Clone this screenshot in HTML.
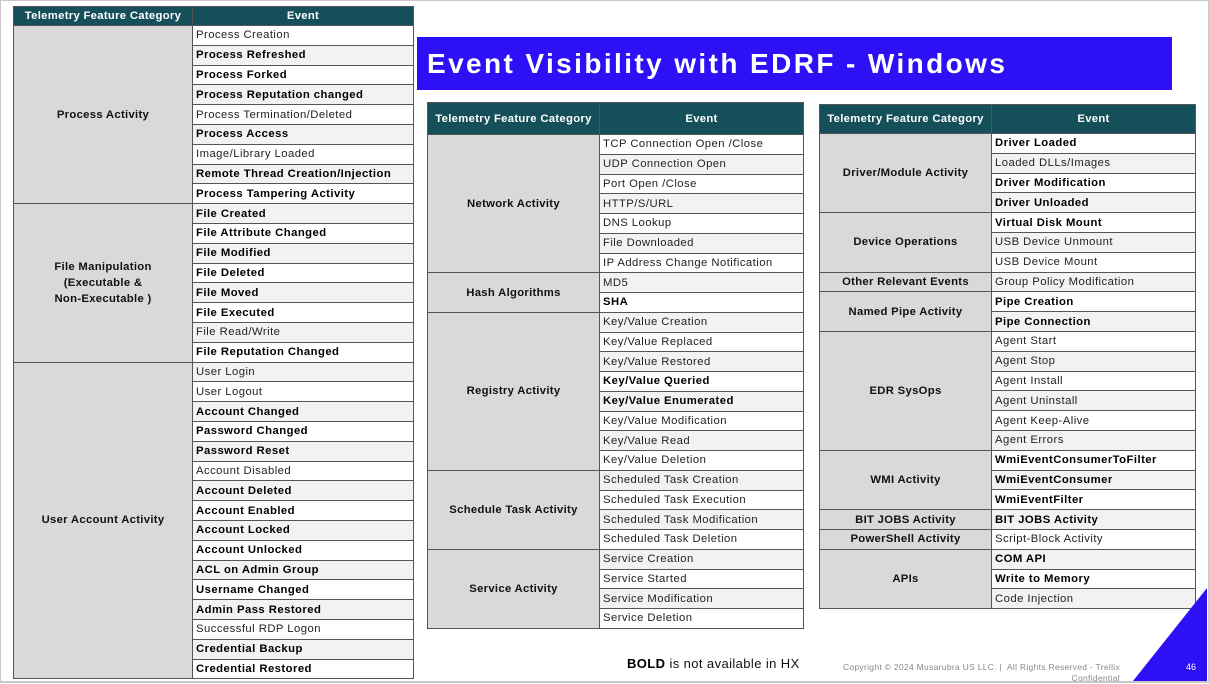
<!DOCTYPE html>
<html><head><meta charset="utf-8"><style>
body{margin:0;background:#fff;}
#pg{position:relative;width:1209px;height:684px;overflow:hidden;background:#fff;font-family:"Liberation Sans",sans-serif;}
#frame{position:absolute;left:0;top:0;width:1207px;height:680px;border:1px solid #c8c8c8;border-bottom:2px solid #c8c8c8;}
table{position:absolute;border-collapse:collapse;table-layout:fixed;font-size:11.3px;color:#222;border:1.5px solid #333;letter-spacing:0.45px;}
td,th{border:1px solid #555;padding:0 0 0 3px;white-space:nowrap;overflow:hidden;line-height:14px;vertical-align:middle;}
th{background:#144f5a;color:#fff;font-weight:bold;text-align:center;padding:0;font-size:11.3px;letter-spacing:0.3px;}
td.c{background:#d9d9d9;font-weight:bold;text-align:center;padding:0;color:#111;white-space:normal;line-height:16px;letter-spacing:0.3px;}
tr.g td{background:#f2f2f2;}
tr.g td.c{background:#d9d9d9;}
b{color:#000;}
#title{position:absolute;left:417px;top:37px;width:755px;height:53px;background:#2d10f5;color:#fff;font-weight:bold;font-size:28px;line-height:53px;padding-left:10px;box-sizing:border-box;letter-spacing:2.4px;}
</style></head><body><div id="pg"><div id="frame"></div>
<div id="title">Event Visibility with EDRF - Windows</div>

<table style="left:13px;top:6px;width:400px;">
<colgroup><col style="width:179px"><col style="width:221px"></colgroup>
<tr style="height:19px"><th>Telemetry Feature Category</th><th>Event</th></tr>
<tr style="height:19.8px"><td class="c" rowspan="9">Process Activity</td><td>Process Creation</td></tr>
<tr class="g" style="height:19.8px"><td><b>Process Refreshed</b></td></tr>
<tr style="height:19.8px"><td><b>Process Forked</b></td></tr>
<tr class="g" style="height:19.8px"><td><b>Process Reputation changed</b></td></tr>
<tr style="height:19.8px"><td>Process Termination/Deleted</td></tr>
<tr class="g" style="height:19.8px"><td><b>Process Access</b></td></tr>
<tr style="height:19.8px"><td>Image/Library Loaded</td></tr>
<tr class="g" style="height:19.8px"><td><b>Remote Thread Creation/Injection</b></td></tr>
<tr style="height:19.8px"><td><b>Process Tampering Activity</b></td></tr>
<tr class="g" style="height:19.8px"><td class="c" rowspan="8">File Manipulation<br>(Executable &amp;<br>Non-Executable )</td><td><b>File Created</b></td></tr>
<tr style="height:19.8px"><td><b>File Attribute Changed</b></td></tr>
<tr class="g" style="height:19.8px"><td><b>File Modified</b></td></tr>
<tr style="height:19.8px"><td><b>File Deleted</b></td></tr>
<tr class="g" style="height:19.8px"><td><b>File Moved</b></td></tr>
<tr style="height:19.8px"><td><b>File Executed</b></td></tr>
<tr class="g" style="height:19.8px"><td>File Read/Write</td></tr>
<tr style="height:19.8px"><td><b>File Reputation Changed</b></td></tr>
<tr class="g" style="height:19.8px"><td class="c" rowspan="16">User Account Activity</td><td>User Login</td></tr>
<tr style="height:19.8px"><td>User Logout</td></tr>
<tr class="g" style="height:19.8px"><td><b>Account Changed</b></td></tr>
<tr style="height:19.8px"><td><b>Password Changed</b></td></tr>
<tr class="g" style="height:19.8px"><td><b>Password Reset</b></td></tr>
<tr style="height:19.8px"><td>Account Disabled</td></tr>
<tr class="g" style="height:19.8px"><td><b>Account Deleted</b></td></tr>
<tr style="height:19.8px"><td><b>Account Enabled</b></td></tr>
<tr class="g" style="height:19.8px"><td><b>Account Locked</b></td></tr>
<tr style="height:19.8px"><td><b>Account Unlocked</b></td></tr>
<tr class="g" style="height:19.8px"><td><b>ACL on Admin Group</b></td></tr>
<tr style="height:19.8px"><td><b>Username Changed</b></td></tr>
<tr class="g" style="height:19.8px"><td><b>Admin Pass Restored</b></td></tr>
<tr style="height:19.8px"><td>Successful RDP Logon</td></tr>
<tr class="g" style="height:19.8px"><td><b>Credential Backup</b></td></tr>
<tr style="height:19.8px"><td><b>Credential Restored</b></td></tr>
</table>

<table style="left:427px;top:102px;width:376px;">
<colgroup><col style="width:172px"><col style="width:204px"></colgroup>
<tr style="height:32px"><th>Telemetry Feature Category</th><th>Event</th></tr>
<tr style="height:19.76px"><td class="c" rowspan="7">Network Activity</td><td>TCP Connection Open /Close</td></tr>
<tr class="g" style="height:19.76px"><td>UDP Connection Open</td></tr>
<tr style="height:19.76px"><td>Port Open /Close</td></tr>
<tr class="g" style="height:19.76px"><td>HTTP/S/URL</td></tr>
<tr style="height:19.76px"><td>DNS Lookup</td></tr>
<tr class="g" style="height:19.76px"><td>File Downloaded</td></tr>
<tr style="height:19.76px"><td>IP Address Change Notification</td></tr>
<tr class="g" style="height:19.76px"><td class="c" rowspan="2">Hash Algorithms</td><td>MD5</td></tr>
<tr style="height:19.76px"><td><b>SHA</b></td></tr>
<tr class="g" style="height:19.76px"><td class="c" rowspan="8">Registry Activity</td><td>Key/Value Creation</td></tr>
<tr style="height:19.76px"><td>Key/Value Replaced</td></tr>
<tr class="g" style="height:19.76px"><td>Key/Value Restored</td></tr>
<tr style="height:19.76px"><td><b>Key/Value Queried</b></td></tr>
<tr class="g" style="height:19.76px"><td><b>Key/Value Enumerated</b></td></tr>
<tr style="height:19.76px"><td>Key/Value Modification</td></tr>
<tr class="g" style="height:19.76px"><td>Key/Value Read</td></tr>
<tr style="height:19.76px"><td>Key/Value Deletion</td></tr>
<tr class="g" style="height:19.76px"><td class="c" rowspan="4">Schedule Task Activity</td><td>Scheduled Task Creation</td></tr>
<tr style="height:19.76px"><td>Scheduled Task Execution</td></tr>
<tr class="g" style="height:19.76px"><td>Scheduled Task Modification</td></tr>
<tr style="height:19.76px"><td>Scheduled Task Deletion</td></tr>
<tr class="g" style="height:19.76px"><td class="c" rowspan="4">Service Activity</td><td>Service Creation</td></tr>
<tr style="height:19.76px"><td>Service Started</td></tr>
<tr class="g" style="height:19.76px"><td>Service Modification</td></tr>
<tr style="height:19.76px"><td>Service Deletion</td></tr>
</table>

<table style="left:819px;top:104px;width:376px;">
<colgroup><col style="width:172px"><col style="width:204px"></colgroup>
<tr style="height:29px"><th>Telemetry Feature Category</th><th>Event</th></tr>
<tr style="height:19.8px"><td class="c" rowspan="4">Driver/Module Activity</td><td><b>Driver Loaded</b></td></tr>
<tr class="g" style="height:19.8px"><td>Loaded DLLs/Images</td></tr>
<tr style="height:19.8px"><td><b>Driver Modification</b></td></tr>
<tr class="g" style="height:19.8px"><td><b>Driver Unloaded</b></td></tr>
<tr style="height:19.8px"><td class="c" rowspan="3">Device Operations</td><td><b>Virtual Disk Mount</b></td></tr>
<tr class="g" style="height:19.8px"><td>USB Device Unmount</td></tr>
<tr style="height:19.8px"><td>USB Device Mount</td></tr>
<tr class="g" style="height:19.8px"><td class="c">Other Relevant Events</td><td>Group Policy Modification</td></tr>
<tr style="height:19.8px"><td class="c" rowspan="2">Named Pipe Activity</td><td><b>Pipe Creation</b></td></tr>
<tr class="g" style="height:19.8px"><td><b>Pipe Connection</b></td></tr>
<tr style="height:19.8px"><td class="c" rowspan="6">EDR SysOps</td><td>Agent Start</td></tr>
<tr class="g" style="height:19.8px"><td>Agent Stop</td></tr>
<tr style="height:19.8px"><td>Agent Install</td></tr>
<tr class="g" style="height:19.8px"><td>Agent Uninstall</td></tr>
<tr style="height:19.8px"><td>Agent Keep-Alive</td></tr>
<tr class="g" style="height:19.8px"><td>Agent Errors</td></tr>
<tr style="height:19.8px"><td class="c" rowspan="3">WMI Activity</td><td><b>WmiEventConsumerToFilter</b></td></tr>
<tr class="g" style="height:19.8px"><td><b>WmiEventConsumer</b></td></tr>
<tr style="height:19.8px"><td><b>WmiEventFilter</b></td></tr>
<tr class="g" style="height:19.8px"><td class="c">BIT JOBS Activity</td><td><b>BIT JOBS Activity</b></td></tr>
<tr style="height:19.8px"><td class="c">PowerShell Activity</td><td>Script-Block Activity</td></tr>
<tr class="g" style="height:19.8px"><td class="c" rowspan="3">APIs</td><td><b>COM API</b></td></tr>
<tr style="height:19.8px"><td><b>Write to Memory</b></td></tr>
<tr class="g" style="height:19.8px"><td>Code Injection</td></tr>
</table>

<div style="position:absolute;left:627px;top:656px;font-size:13px;color:#111;letter-spacing:0.4px;"><b>BOLD</b> is not available in HX</div>
<div style="position:absolute;left:800px;top:662px;width:320px;font-size:8.5px;color:#888;text-align:right;line-height:11px;letter-spacing:0.3px;">Copyright © 2024 Musarubra US LLC. |&nbsp; All Rights Reserved - Trellix<br>Confidential</div>
<svg style="position:absolute;left:0;top:0" width="1209" height="684"><polygon points="1207,588 1207,681 1133,681" fill="#2d10f5"/></svg>
<div style="position:absolute;left:1186px;top:662px;font-size:9px;color:#fff;">46</div>
</div></body></html>
